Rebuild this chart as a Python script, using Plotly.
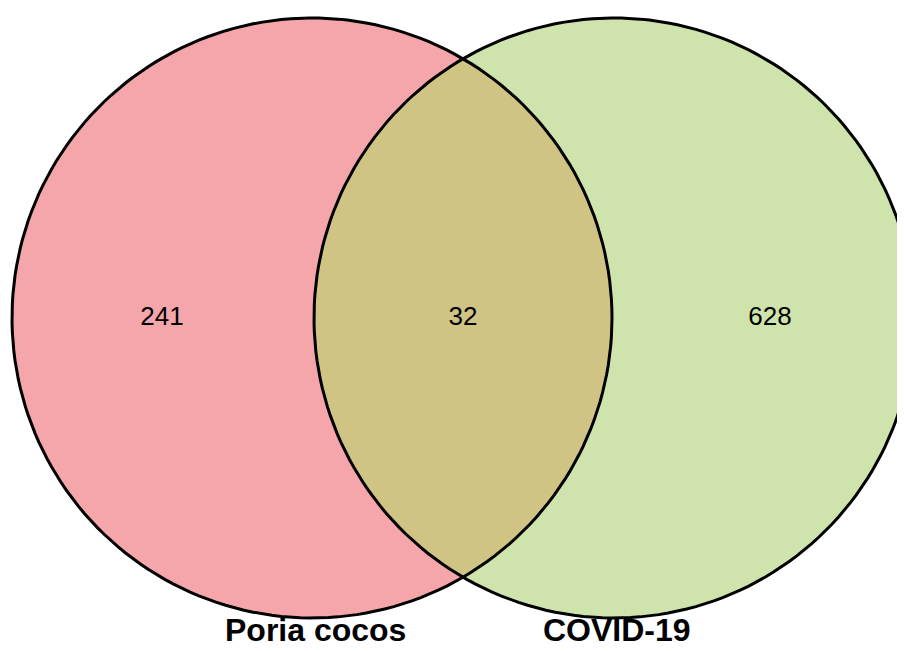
import numpy as np
import plotly.graph_objects as go

# Venn data
set_names = ["Poria cocos", "COVID-19"]
only_counts = [241, 628]
shared_count = 32

# colours
LEFT_FILL = "#f5a6ab"
RIGHT_FILL = "#cfe3ad"
OVERLAP_FILL = "#cfc484"
EDGE = "black"

# geometry in pixel units (y grows downwards)
W, H = 905, 651
PAD = 8  # page body margin, compensated in the axis ranges
R = 300
CY = 318
CX = [312, 614]


def arc(cx, cy, r, a0, a1, n=200):
    t = np.linspace(a0, a1, n)
    return cx + r * np.cos(t), cy + r * np.sin(t)


fig = go.Figure()

full = (0, 2 * np.pi)
for cx, fill in zip(CX, [LEFT_FILL, RIGHT_FILL]):
    x, y = arc(cx, CY, R, *full)
    fig.add_trace(go.Scatter(x=x, y=y, mode="lines", fill="toself", fillcolor=fill,
                             line=dict(width=0), hoverinfo="skip", showlegend=False))

# lens between the two circles
d = CX[1] - CX[0]
half = np.arccos((d / 2) / R)
x1, y1 = arc(CX[0], CY, R, -half, half)  # right arc of left circle
x2, y2 = arc(CX[1], CY, R, np.pi - half, np.pi + half)  # left arc of right circle
fig.add_trace(go.Scatter(x=np.concatenate([x1, x2]), y=np.concatenate([y1, y2]),
                         mode="lines", fill="toself", fillcolor=OVERLAP_FILL,
                         line=dict(width=0), hoverinfo="skip", showlegend=False))

for cx in CX:
    x, y = arc(cx, CY, R, *full)
    fig.add_trace(go.Scatter(x=x, y=y, mode="lines", line=dict(color=EDGE, width=3),
                             hoverinfo="skip", showlegend=False))

# region counts
mid = (CX[0] + CX[1]) / 2
fig.add_trace(go.Scatter(
    x=[CX[0] - R / 2, mid, CX[1] + R / 2 + 6],
    y=[CY, CY, CY],
    mode="text",
    text=[str(only_counts[0]), str(shared_count), str(only_counts[1])],
    textfont=dict(family="Liberation Sans, Arial", size=26, color="black"),
    hoverinfo="skip", showlegend=False,
))

for cx, name in zip(CX, set_names):
    fig.add_annotation(x=cx + 3, y=630, text=f"<b>{name}</b>", showarrow=False,
                       font=dict(family="Liberation Sans, Arial", size=32, color="black"),
                       xanchor="center", yanchor="middle")

fig.update_layout(
    width=W, height=H,
    margin=dict(l=0, r=0, t=0, b=0),
    plot_bgcolor="white", paper_bgcolor="white",
    xaxis=dict(range=[PAD, W + PAD], visible=False, fixedrange=True),
    yaxis=dict(range=[H + PAD, PAD], visible=False, fixedrange=True),
)

fig.write_html("out.html")
